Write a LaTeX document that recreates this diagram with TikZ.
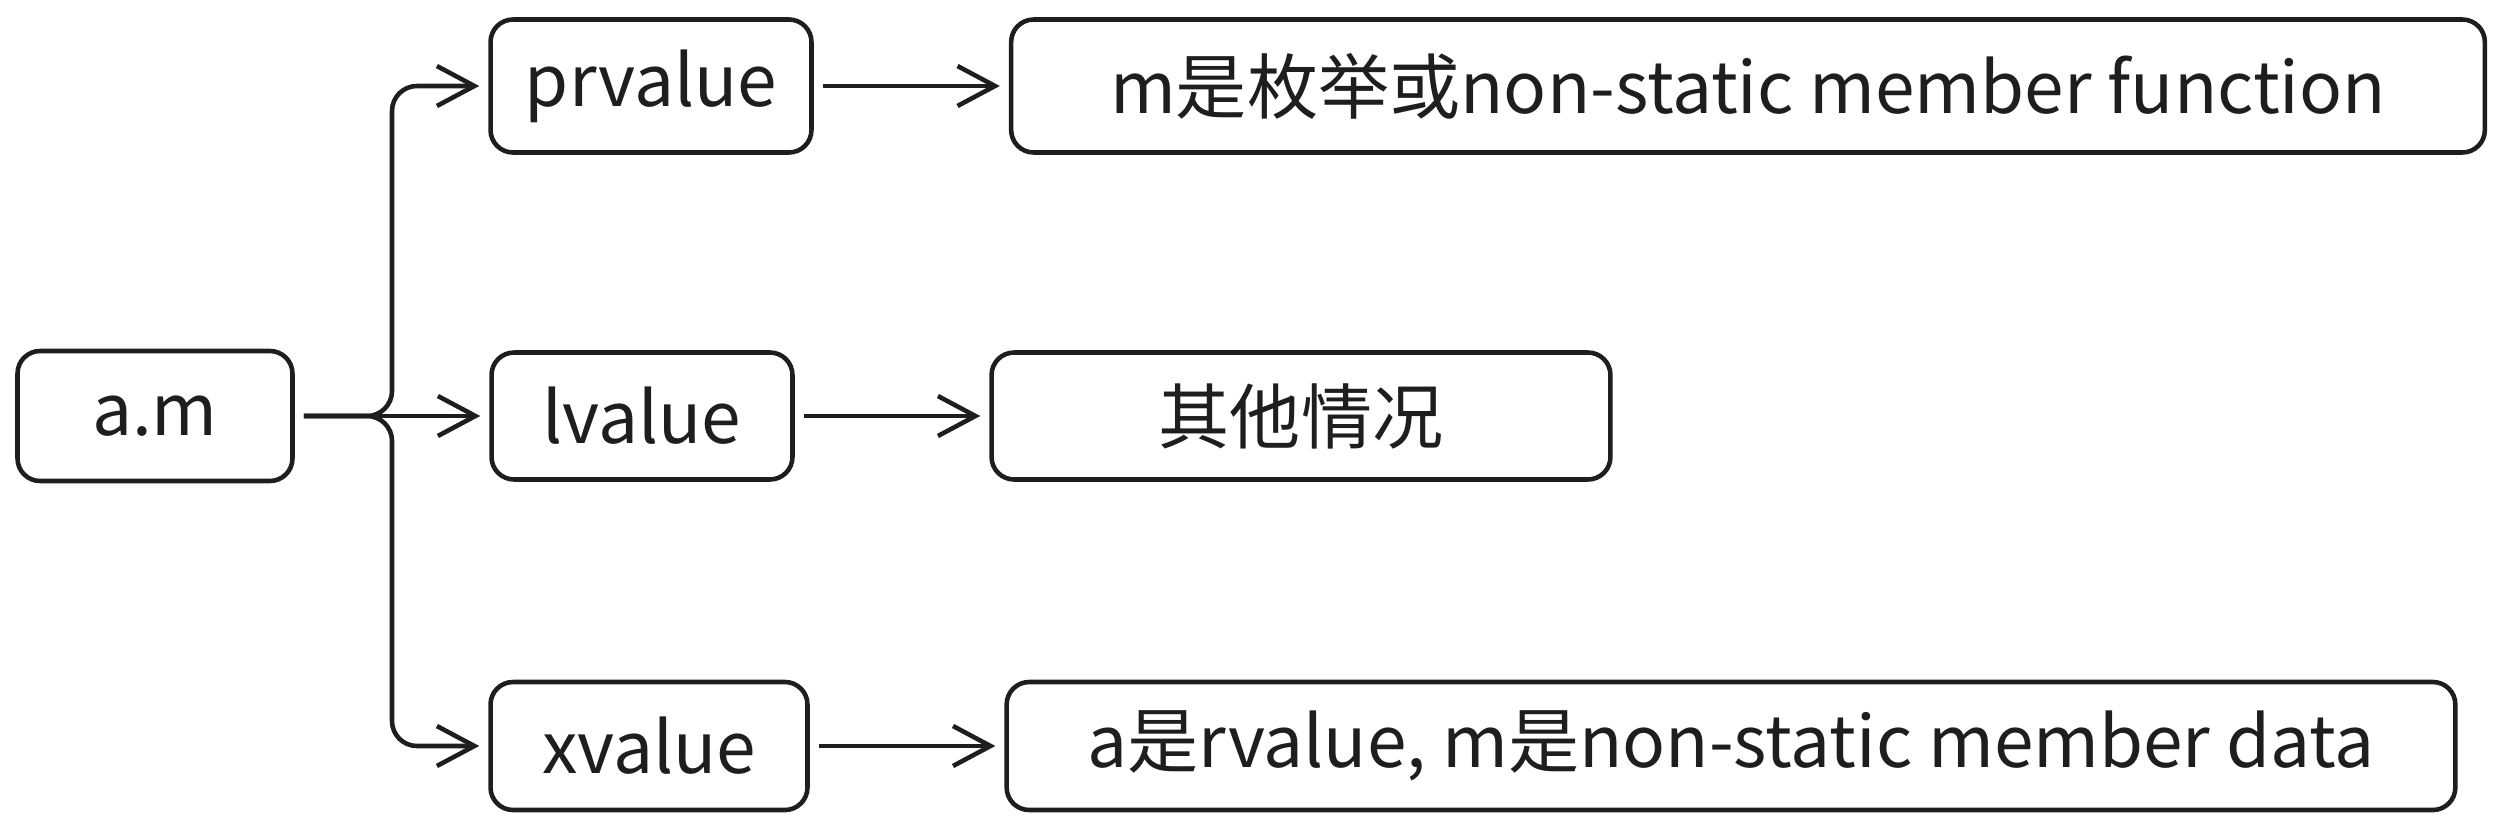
\documentclass[tikz,border=0pt]{standalone}
\usepackage{fontspec}
\setmainfont{Noto Sans CJK SC}
\usetikzlibrary{arrows.meta}
\definecolor{ink}{HTML}{1E1E1E}

\begin{document}
\begin{tikzpicture}[x=0.02cm, y=-0.02cm, line width=2.6pt, draw=ink, text=ink,
  box/.style={draw=ink, rounded corners=0.45cm, inner sep=0pt,
    font=\fontsize{40.5}{48}\selectfont},
  >={Straight Barb[length=0.75cm, width=0.8cm]},
  link/.style={->, draw=ink, shorten <=0.18cm, shorten >=0.18cm, rounded corners=0.5cm}]
  \useasboundingbox (0,0) rectangle (2506,832);

  \node[box, minimum width=5.5cm, minimum height=2.6cm] (am) at (155,416) {a.m};

  \node[box, minimum width=6.42cm, minimum height=2.66cm] (pr) at (651,86) {prvalue};
  \node[box, minimum width=6.02cm, minimum height=2.54cm] (lv) at (642,416) {lvalue};
  \node[box, minimum width=6.34cm, minimum height=2.56cm] (xv) at (649,746) {xvalue};

  \node[box, minimum width=29.48cm, minimum height=2.66cm] (prd) at (1748,86)
    {m是枚举或non-static member function};
  \node[box, minimum width=12.38cm, minimum height=2.54cm] (lvd) at (1301,416) {其他情况};
  \node[box, minimum width=28.98cm, minimum height=2.56cm] (xvd) at (1731,746)
    {a是rvalue, m是non-static member data};

  % split from a.m
  \coordinate (split) at (392,416);
  \draw[link] (am.east) -- (split) |- (pr.west);
  \draw[link] (am.east) -- (lv.west);
  \draw[link] (am.east) -- (split) |- (xv.west);

  \draw[link] (pr) -- (prd);
  \draw[link] (lv) -- (lvd);
  \draw[link] (xv) -- (xvd);
\end{tikzpicture}
\end{document}
